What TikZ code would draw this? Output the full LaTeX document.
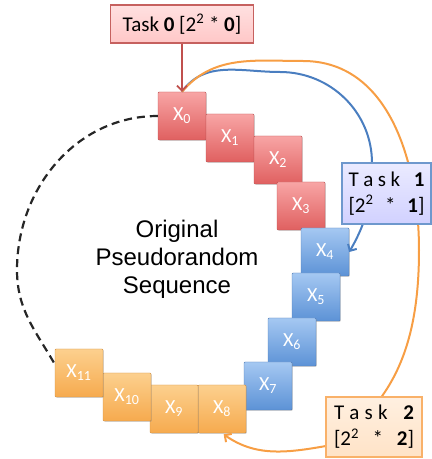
\documentclass[tikz,border=0pt]{standalone}
\usepackage{fontspec}
\setmainfont{Carlito}
\newfontfamily\seqfont{Liberation Sans}
\usetikzlibrary{shadows,arrows.meta}
\definecolor{redA}{RGB}{248,165,165}
\definecolor{redB}{RGB}{224,96,96}
\definecolor{bluA}{RGB}{165,200,242}
\definecolor{bluB}{RGB}{92,146,214}
\definecolor{orgA}{RGB}{252,208,142}
\definecolor{orgB}{RGB}{246,170,78}
\definecolor{lineB}{RGB}{74,126,192}
\definecolor{lineO}{RGB}{247,158,68}
\definecolor{lineR}{RGB}{192,80,77}
\begin{document}
\begin{tikzpicture}[x=1pt,y=1pt,>={Straight Barb[length=5pt,width=10pt]},
    cell/.style={minimum size=48pt,inner sep=0pt,text=white,rounded corners=1pt,
      font=\fontsize{20}{24}\selectfont,
      drop shadow={shadow xshift=.8pt,shadow yshift=-.8pt,opacity=.35}},
    red/.style={cell,top color=redA,bottom color=redB,draw=redB!85!black},
    blue/.style={cell,top color=bluA,bottom color=bluB,draw=bluB!85!black},
    orange/.style={cell,top color=orgA,bottom color=orgB,draw=orgB!85!black},
    task/.style={line width=1.3pt,inner sep=0pt,align=left,font=\fontsize{21}{26}\selectfont}]
  \useasboundingbox (0,0) rectangle (432,459);
  % the twelve values of the sequence
  \foreach \i/\x/\y/\c in {0/182/343/red,1/230/321/red,2/278/299/red,3/301/253/red,
      4/325/207/blue,5/316/162/blue,6/292/117/blue,7/268/73/blue,
      8/222/50/orange,9/174/50/orange,10/127/62/orange,11/79/86/orange}
    \node[\c] (x\i) at (\x,\y) {X\textsubscript{\i}};
  \node[font=\seqfont\fontsize{24}{28}\selectfont,align=center] (seq) at (177,200) {Original\\Pseudorandom\\Sequence};
  % rest of the cycle
  \draw[line width=2.2pt,black!85,dash pattern=on 8pt off 5pt]
    (x0.west) to[out=180,in=90] (17,189) to[out=-90,in=120] (x11.160);
  % jumps of 2^2 values
  \draw[lineB,line width=2pt,->] (x0.north) to[out=55,in=180] (280,387)
    to[out=0,in=90] (372,296) to[out=-90,in=60] (x4.east);
  \draw[lineO,line width=2pt,->,shorten >=2pt] (x0.north) to[out=50,in=180] (303,398)
    to[out=0,in=90] (419,209) to[out=-90,in=30] (326,13) to[out=190,in=-35] (x8.south);
  % tasks
  \node[task,draw=lineR!90,top color=red!12,bottom color=red!22,minimum width=143pt,minimum height=38pt,align=center]
    (t0) at (182,435) {Task \textbf{0} [2\textsuperscript{2} * \textbf{0}]};
  \node[task,draw=lineB!80,top color=blue!8,bottom color=blue!18,minimum width=89pt,minimum height=61pt]
    (t1) at (386.5,265.5) {\makebox[76pt][s]{T\hfil a\hfil s\hfil k\hfil\hfil\hfil\textbf{1}}\\
      \makebox[76pt][s]{[2\textsuperscript{2}\hfil\hfil*\hfil\hfil\textbf{1}]}};
  \node[task,draw=lineO!80,top color=orange!12,bottom color=orange!22,minimum width=96pt,minimum height=60pt]
    (t2) at (374,32) {\makebox[80pt][s]{T\hfil a\hfil s\hfil k\hfil\hfil\hfil\textbf{2}}\\
      \makebox[80pt][s]{[2\textsuperscript{2}\hfil\hfil*\hfil\hfil\textbf{2}]}};
  \draw[lineR,line width=1.8pt,->] (t0.south) -- (x0.north);
\end{tikzpicture}
\end{document}
